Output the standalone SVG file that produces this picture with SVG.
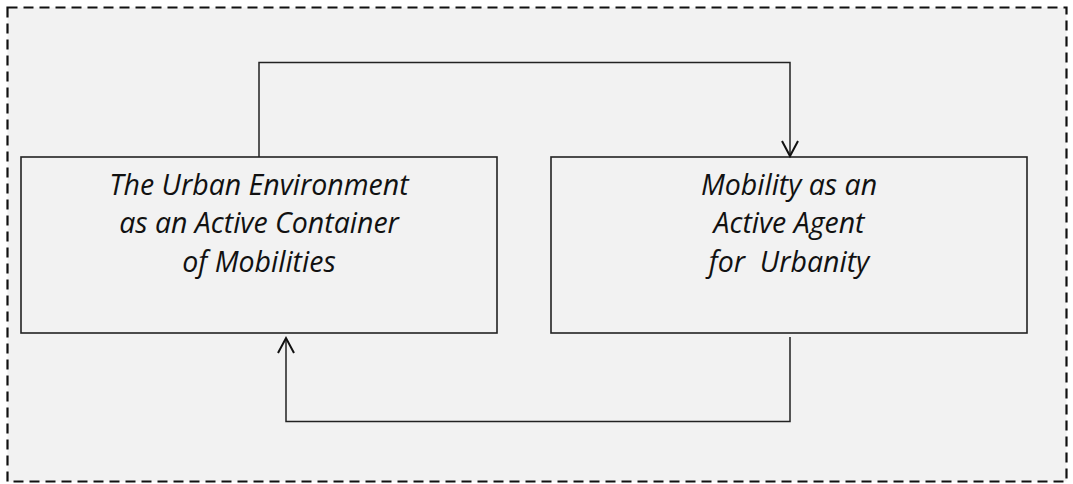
<svg xmlns="http://www.w3.org/2000/svg" width="1073" height="484" viewBox="0 0 1073 484">
<style>
.box{fill:#f2f2f2;stroke:#222;stroke-width:1.6}
.lbl{font-family:"Open Sans","Liberation Sans",sans-serif;font-style:italic;font-size:28.5px;fill:#111;text-anchor:middle}
.conn{fill:none;stroke:#222;stroke-width:1.5}
.head{fill:none;stroke:#111;stroke-width:2}
</style>
<rect x="0" y="0" width="1073" height="484" fill="#ffffff"/>
<rect id="frame" x="7.5" y="7.5" width="1059" height="474" fill="#f2f2f2" stroke="#111" stroke-width="2.2" stroke-dasharray="10,6"/>
<g id="node-urban">
<rect class="box" x="21" y="157" width="476" height="176"/>
<text class="lbl" x="259" y="195">The Urban Environment</text>
<text class="lbl" x="259" y="233">as an Active Container</text>
<text class="lbl" x="259" y="272">of Mobilities</text>
</g>
<g id="node-mobility">
<rect class="box" x="551" y="157" width="476" height="176"/>
<text class="lbl" x="789" y="195">Mobility as an</text>
<text class="lbl" x="789" y="233">Active Agent</text>
<text class="lbl" x="789" y="272" xml:space="preserve">for  Urbanity</text>
</g>
<g id="connectors">
<polyline class="conn" points="259,157 259,62.5 790,62.5 790,156"/>
<polyline class="head" points="782,141 790,156 798,141"/>
<polyline class="conn" points="790,337 790,421.5 286,421.5 286,338"/>
<polyline class="head" points="278,353 286,338 294,353"/>
</g>
</svg>
